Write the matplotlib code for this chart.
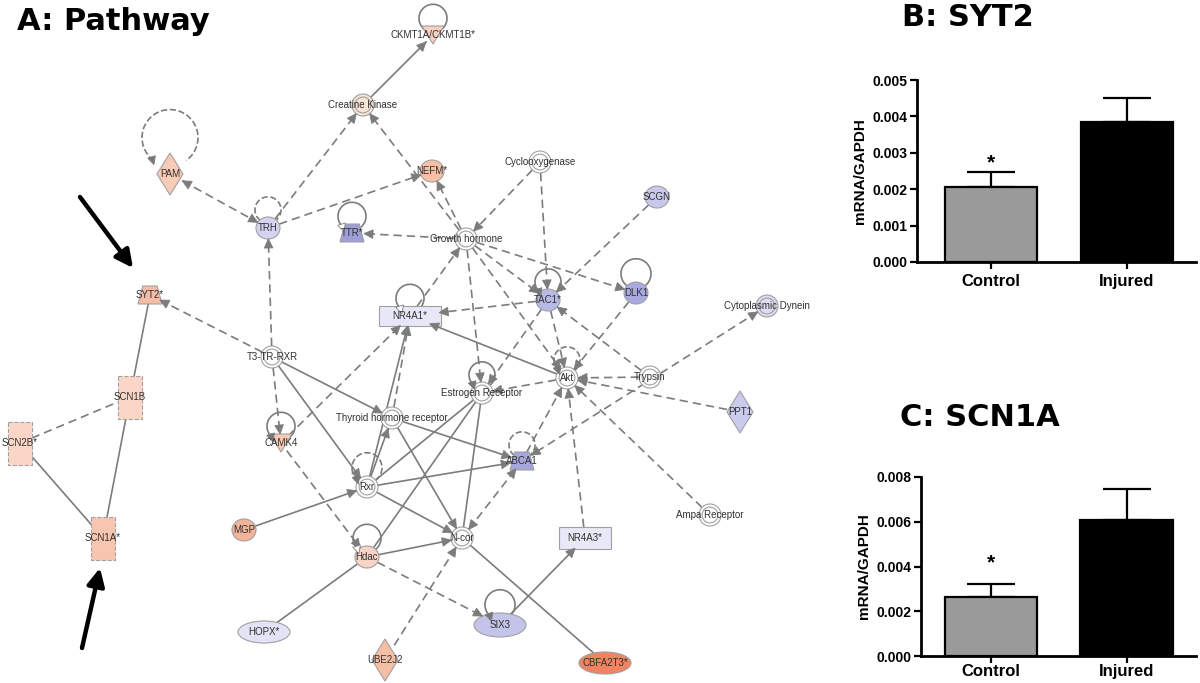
import matplotlib.pyplot as plt
import numpy as np
from matplotlib.patches import Ellipse, Rectangle, Polygon, Arc

plt.rcParams['font.family'] = ['Liberation Sans', 'DejaVu Sans']

# ---------------- panel A: pathway network (layout in pixels of the canvas)
node_labels = ["CKMT1A/CKMT1B*", "Creatine Kinase", "PAM", "NEFM*", "Cyclooxygenase",
               "SCGN", "TRH", "TTR*", "Growth hormone", "TAC1*", "DLK1",
               "Cytoplasmic Dynein", "SYT2*", "NR4A1*", "T3-TR-RXR", "Akt", "Trypsin",
               "Estrogen Receptor", "PPT1", "SCN1B", "SCN2B*", "Thyroid hormone receptor",
               "CAMK4", "ABCA1", "Rxr", "MGP", "Ampa Receptor", "N-cor", "NR4A3*",
               "SCN1A*", "Hdac", "HOPX*", "SIX3", "UBE2J2", "CBFA2T3*"]
node_xy = [(433, 35), (363, 105), (170, 174), (432, 171), (540, 162),
           (657, 197), (268, 228), (352, 233), (466, 239), (548, 300), (636, 293),
           (767, 306), (150, 295), (410, 316), (272, 357), (567, 378), (650, 377),
           (482, 393), (740, 412), (130, 397), (20, 443), (392, 418),
           (281, 443), (522, 461), (367, 487), (244, 530), (710, 515), (462, 538), (585, 538),
           (103, 538), (367, 557), (264, 632), (500, 625), (385, 660), (605, 663)]
node_shape = ["vtri", "dcircle", "diamond", "circle", "dcircle",
              "circle", "circle", "trap", "dcircle", "circle", "circle",
              "dcircle", "trap", "rect", "dcircle", "dcircle", "dcircle",
              "dcircle", "diamond", "drect", "drect", "dcircle",
              "vtri", "trap", "dcircle", "circle", "dcircle", "dcircle", "rect",
              "drect", "circle", "ellipse", "ellipse", "diamond", "ellipse"]
node_fill = ["#f9d0bd", "#fbe3d6", "#f7cbb5", "#f5c0a6", "white",
             "#c8c8ec", "#d4d4f1", "#9e9ed9", "white", "#b9b9e6", "#a9a9e2",
             "#dcdcf2", "#f7bca4", "#e7e7f7", "white", "white", "white",
             "white", "#cbcbed", "#fbd6c6", "#fbd6c6", "white",
             "#f9c9b4", "#a6a6dc", "white", "#f3b398", "white", "white", "#e8e8f6",
             "#f8c5b1", "#f9d3c3", "#e3e3f5", "#c4c4ea", "#f6bfa5", "#ef8462"]

shape_size = {"circle": (24, 22), "dcircle": (22, 22), "ellipse": (52, 22),
              "rect": (56, 22), "drect": (24, 43), "trap": (24, 18),
              "vtri": (22, 18), "diamond": (26, 42)}
size_override = {"NR4A1*": (62, 20), "NR4A3*": (52, 22), "SIX3": (52, 24)}

# (source, target, line style, arrow heads)
edges = [
    ("Creatine Kinase", "CKMT1A/CKMT1B*", "-", ">"),
    ("TRH", "Creatine Kinase", "--", ">"),
    ("Growth hormone", "Creatine Kinase", "--", ">"),
    ("TRH", "NEFM*", "--", ">"),
    ("Growth hormone", "NEFM*", "--", ">"),
    ("PAM", "TRH", "--", "<>"),
    ("T3-TR-RXR", "TRH", "--", ">"),
    ("Growth hormone", "TTR*", "--", ">"),
    ("Cyclooxygenase", "Growth hormone", "--", ">"),
    ("Cyclooxygenase", "TAC1*", "--", ">"),
    ("SCGN", "TAC1*", "--", ">"),
    ("Growth hormone", "TAC1*", "--", ">"),
    ("Growth hormone", "DLK1", "--", ">"),
    ("TAC1*", "NR4A1*", "--", ">"),
    ("NR4A1*", "Growth hormone", "--", ">"),
    ("Growth hormone", "Estrogen Receptor", "--", ">"),
    ("Growth hormone", "Akt", "--", ">"),
    ("Akt", "NR4A1*", "-", ">"),
    ("TAC1*", "Akt", "--", ">"),
    ("TAC1*", "Estrogen Receptor", "--", ">"),
    ("DLK1", "Akt", "--", ">"),
    ("Trypsin", "TAC1*", "--", ">"),
    ("Trypsin", "Akt", "--", ">"),
    ("Akt", "Estrogen Receptor", "--", ">"),
    ("Cytoplasmic Dynein", "ABCA1", "--", "<>"),
    ("PPT1", "Akt", "--", ">"),
    ("Ampa Receptor", "Akt", "--", ">"),
    ("NR4A3*", "Akt", "--", ">"),
    ("ABCA1", "Akt", "--", ">"),
    ("Thyroid hormone receptor", "ABCA1", "-", ">"),
    ("Rxr", "ABCA1", "-", ">"),
    ("N-cor", "ABCA1", "--", "<>"),
    ("Estrogen Receptor", "Rxr", "-", ""),
    ("Estrogen Receptor", "Hdac", "-", ""),
    ("Estrogen Receptor", "N-cor", "-", ""),
    ("T3-TR-RXR", "Thyroid hormone receptor", "-", ">"),
    ("T3-TR-RXR", "Rxr", "-", ">"),
    ("T3-TR-RXR", "CAMK4", "--", ">"),
    ("CAMK4", "NR4A1*", "--", ">"),
    ("T3-TR-RXR", "SYT2*", "--", ">"),
    ("SYT2*", "SCN1B", "-", ""),
    ("SCN1B", "SCN1A*", "-", ""),
    ("SCN2B*", "SCN1B", "--", ""),
    ("SCN2B*", "SCN1A*", "-", ""),
    ("CAMK4", "Hdac", "--", ">"),
    ("Rxr", "Thyroid hormone receptor", "-", ">"),
    ("Rxr", "N-cor", "-", ">"),
    ("Thyroid hormone receptor", "N-cor", "-", ">"),
    ("MGP", "Rxr", "-", ">"),
    ("Hdac", "N-cor", "-", ">"),
    ("Rxr", "NR4A1*", "-", ">"),
    ("Thyroid hormone receptor", "NR4A1*", "--", ">"),
    ("Hdac", "SIX3", "--", ">"),
    ("HOPX*", "Hdac", "-", ""),
    ("UBE2J2", "N-cor", "--", ">"),
    ("N-cor", "CBFA2T3*", "-", ""),
    ("SIX3", "NR4A3*", "-", ">"),
]

# self loops: node -> (line style, head colour, loop radius)
loops = {"CKMT1A/CKMT1B*": ("-", None, 14), "PAM": ("--", "#777777", 28),
         "TRH": ("--", None, 13), "TTR*": ("-", "white", 14),
         "TAC1*": ("-", "#777777", 13), "DLK1": ("-", None, 15),
         "NR4A1*": ("-", "white", 14), "Akt": ("--", "#777777", 13),
         "Estrogen Receptor": ("-", "#777777", 13), "ABCA1": ("--", None, 13),
         "CAMK4": ("-", "#777777", 14), "Rxr": ("--", "#777777", 15),
         "Hdac": ("-", "white", 14), "SIX3": ("-", "#777777", 15)}

highlighted = ["SYT2*", "SCN1A*"]
pointer_offsets = [(-17, -27, -70, -98), (-3, 30, -21, 110)]

# ---------------- panels B and C: qPCR bars
groups = ["Control", "Injured"]
syt2_mean = [0.00207, 0.00385]
syt2_sem = [0.00041, 0.00066]
syt2_star = 0.00273
syt2_ticks = [0.000, 0.001, 0.002, 0.003, 0.004, 0.005]
scn1a_mean = [0.00262, 0.00608]
scn1a_sem = [0.00058, 0.00137]
scn1a_star = 0.00415
scn1a_ticks = [0.000, 0.002, 0.004, 0.006, 0.008]
bar_colors = ["#9a9a9a", "#000000"]

EDGE_C = "#7c7c7c"

fig = plt.figure(figsize=(12, 6.83), dpi=100)
ax = fig.add_axes([0, 0, 1, 1])
ax.set_xlim(0, 1200)
ax.set_ylim(683, 0)
ax.axis("off")

pos = dict(zip(node_labels, node_xy))
size = {}
for n, s in zip(node_labels, node_shape):
    size[n] = size_override.get(n, shape_size[s])


def head(p, u, color, L=9, hw=4.3):
    base = p - u * L
    nrm = np.array([-u[1], u[0]])
    ax.add_patch(Polygon([p, base + nrm * hw, base - nrm * hw], closed=True,
                         fc=color, ec=EDGE_C, lw=0.6, zorder=4))


def rad(n, u):
    w, h = size[n]
    return 1.0 / np.sqrt((u[0] / (w / 2)) ** 2 + (u[1] / (h / 2)) ** 2)


for a, b, ls, hd in edges:
    pa, pb = np.array(pos[a], float), np.array(pos[b], float)
    u = (pb - pa) / np.linalg.norm(pb - pa)
    s = pa + u * rad(a, u)
    e = pb - u * rad(b, u)
    ax.plot([s[0], e[0]], [s[1], e[1]], ls=ls, color=EDGE_C, lw=1.2,
            dashes=(5, 3) if ls == "--" else (None, None), zorder=2)
    if ">" in hd:
        head(e, u, EDGE_C)
    if "<" in hd:
        head(s, -u, EDGE_C)

for n, (ls, hc, r) in loops.items():
    x, y = pos[n]
    cy = y - size[n][1] / 2 - r * 0.55
    ax.add_patch(Arc((x, cy), 2 * r, 2 * r, theta1=125, theta2=415, color=EDGE_C,
                     lw=1.2, ls=ls, zorder=2))
    if hc is not None:
        t = np.deg2rad(125)
        p = np.array([x + r * np.cos(t), cy + r * np.sin(t)])
        head(p + np.array([0, 4]), np.array([0.3, 0.95]) / np.hypot(0.3, 0.95), hc, L=8, hw=4)

for n, (x, y), shp, fc in zip(node_labels, node_xy, node_shape, node_fill):
    w, h = size[n]
    kw = dict(fc=fc, ec="#a0a0a0", lw=0.8, zorder=3)
    if shp in ("circle", "ellipse"):
        ax.add_patch(Ellipse((x, y), w, h, **kw))
    elif shp == "dcircle":
        ax.add_patch(Ellipse((x, y), w, h, **kw))
        ax.add_patch(Ellipse((x, y), w * 0.72, h * 0.72, fc="none", ec="#a0a0a0",
                             lw=0.8, zorder=3))
    elif shp in ("rect", "drect"):
        ax.add_patch(Rectangle((x - w / 2, y - h / 2), w, h,
                               ls="--" if shp == "drect" else "-", **kw))
    elif shp == "trap":
        ax.add_patch(Polygon([(x - w * 0.3, y - h / 2), (x + w * 0.3, y - h / 2),
                              (x + w / 2, y + h / 2), (x - w / 2, y + h / 2)], **kw))
    elif shp == "vtri":
        ax.add_patch(Polygon([(x - w / 2, y - h / 2), (x + w / 2, y - h / 2),
                              (x, y + h / 2)], **kw))
    elif shp == "diamond":
        ax.add_patch(Polygon([(x, y - h / 2), (x + w / 2, y), (x, y + h / 2),
                              (x - w / 2, y)], **kw))
    ax.text(x, y, n, ha="center", va="center", fontsize=7, color="#303030", zorder=5)

for n, (dxt, dyt, dxs, dys) in zip(highlighted, pointer_offsets):
    x, y = pos[n]
    ax.annotate("", xy=(x + dxt, y + dyt), xytext=(x + dxs, y + dys),
                arrowprops=dict(arrowstyle="-|>", color="black", lw=3.2,
                                mutation_scale=26, shrinkA=0, shrinkB=0), zorder=6)

fig.text(17 / 1200, 1 - 22 / 683, "A: Pathway", fontsize=22, fontweight="bold",
         family="DejaVu Sans", ha="left", va="center")
fig.text(902 / 1200, 1 - 18 / 683, "B: SYT2", fontsize=22, fontweight="bold",
         family="DejaVu Sans", ha="left", va="center")
fig.text(900 / 1200, 1 - 418 / 683, "C: SCN1A", fontsize=22, fontweight="bold",
         family="DejaVu Sans", ha="left", va="center")


def bar_panel(rect, means, sems, star_y, ticks, xlim, xpad):
    bx = fig.add_axes(rect)
    xs = np.arange(len(groups))
    bx.bar(xs, means, width=0.68, color=bar_colors, edgecolor="black", lw=1.6, zorder=2)
    bx.errorbar(xs, means, yerr=[np.zeros(len(sems)), sems], fmt="none", ecolor="black",
                elinewidth=1.6, capsize=17, capthick=1.6, zorder=1)
    bx.text(xs[0], star_y, "*", ha="center", va="center", fontsize=15, fontweight="bold")
    bx.set_xlim(*xlim)
    bx.set_ylim(ticks[0], ticks[-1])
    bx.set_yticks(ticks)
    bx.set_xticks(xs)
    bx.set_xticklabels(groups, fontsize=12, fontweight="bold")
    bx.yaxis.set_major_formatter(plt.FormatStrFormatter("%.3f"))
    for lab in bx.get_yticklabels():
        lab.set_fontweight("bold")
    bx.tick_params(axis="y", labelsize=10, length=5, width=1.6, pad=2)
    bx.tick_params(axis="x", length=5, width=1.6, pad=xpad)
    for sp in ("top", "right"):
        bx.spines[sp].set_visible(False)
    for sp in ("left", "bottom"):
        bx.spines[sp].set_linewidth(2)
    bx.set_ylabel("mRNA/GAPDH", fontsize=11, fontweight="bold", labelpad=4)
    bx.patch.set_alpha(0)
    return bx


axB = bar_panel([917 / 1200, 1 - 262 / 683, 279 / 1200, 182 / 683],
                syt2_mean, syt2_sem, syt2_star, syt2_ticks, (-0.544, 1.507), 4)
axC = bar_panel([921 / 1200, 1 - 656 / 683, 275 / 1200, 179 / 683],
                scn1a_mean, scn1a_sem, scn1a_star, scn1a_ticks, (-0.517, 1.513), 0.5)

fig.savefig("out.png", dpi=100)
